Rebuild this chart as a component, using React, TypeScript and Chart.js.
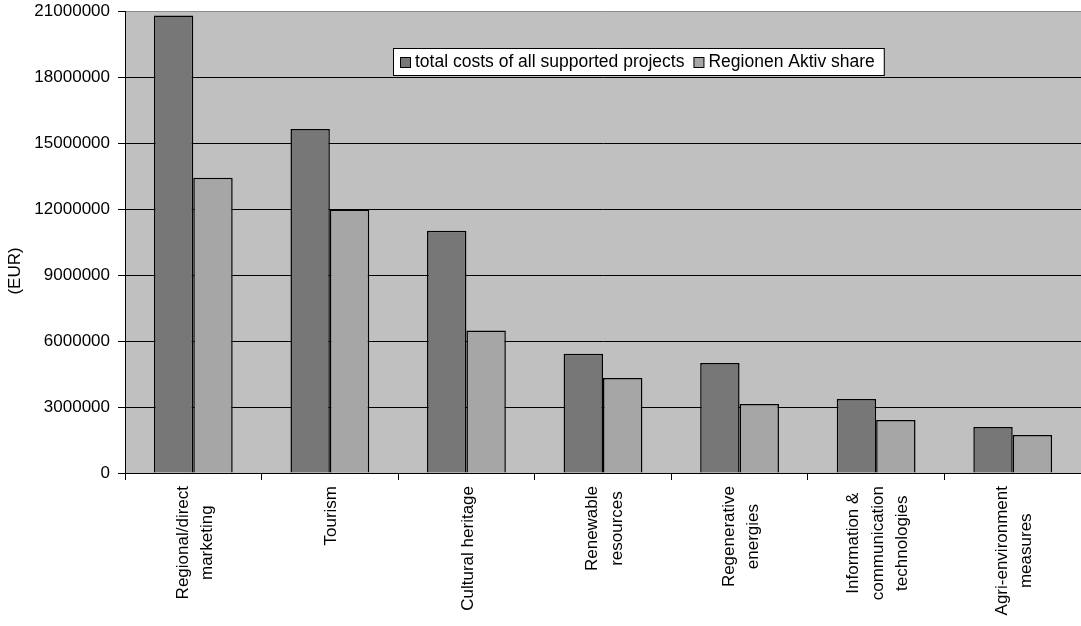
import React, { useEffect, useRef } from "react";
import { Chart, registerables } from "chart.js";

Chart.register(...registerables);

const categories: string[][] = [
  ["Regional/direct", "marketing"],
  ["Tourism"],
  ["Cultural heritage"],
  ["Renewable", "resources"],
  ["Regenerative", "energies"],
  ["Information &", "communication", "technologies"],
  ["Agri-environment", "measures"],
];

const seriesNames = ["total costs of all supported projects", "Regionen Aktiv share"];
const totalCosts = [20800000, 15640000, 11010000, 5420000, 5000000, 3360000, 2090000];
const regionenShare = [13420000, 11980000, 6480000, 4320000, 3140000, 2410000, 1730000];
const yTitle = "(EUR)";
const yMin = 0;
const yMax = 21000000;
const yStep = 3000000;

const FAMILY = "'Liberation Sans', Arial, sans-serif";
const FONT = "17px " + FAMILY;
const LEGEND_FONT = "17.5px " + FAMILY;
const DARK = "#777777";
const LIGHT = "#a6a6a6";
const PLOT_BG = "#c0c0c0";

const decorPlugin = {
  id: "decor",
  beforeDraw(chart: any) {
    const { ctx, chartArea } = chart;
    ctx.save();
    ctx.fillStyle = "#ffffff";
    ctx.fillRect(0, 0, chart.width, chart.height);
    ctx.fillStyle = PLOT_BG;
    ctx.fillRect(chartArea.left, chartArea.top, chartArea.right - chartArea.left, chartArea.bottom - chartArea.top);
    ctx.restore();
  },
  afterDraw(chart: any) {
    const { ctx } = chart;
    const xs = chart.scales.x;
    ctx.save();
    ctx.font = FONT;
    ctx.fillStyle = "#000";
    // category labels, rotated, lines centered
    categories.forEach((lines, i) => {
      const x = xs.getPixelForValue(i);
      const maxW = Math.max(...lines.map((l) => ctx.measureText(l).width));
      ctx.save();
      ctx.translate(x, 486);
      ctx.rotate(-Math.PI / 2);
      ctx.textAlign = "center";
      ctx.textBaseline = "alphabetic";
      const n = lines.length;
      lines.forEach((l, j) => {
        ctx.fillText(l, -maxW / 2, 6.5 + (j - (n - 1) / 2) * 24.5);
      });
      ctx.restore();
    });
    // y title
    ctx.save();
    ctx.translate(15, 271);
    ctx.rotate(-Math.PI / 2);
    ctx.textAlign = "center";
    ctx.textBaseline = "middle";
    ctx.fillText(yTitle, 0, 0);
    ctx.restore();
    // legend
    ctx.font = LEGEND_FONT;
    const colors = [DARK, LIGHT];
    const bx = 393;
    const by = 48;
    const bh = 27;
    let cx = bx + 7;
    const items: { mx: number; tx: number }[] = [];
    seriesNames.forEach((name) => {
      const w = ctx.measureText(name).width;
      items.push({ mx: cx, tx: cx + 15 });
      cx = cx + 15 + w + 9;
    });
    const bw = cx - bx;
    ctx.fillStyle = "#ffffff";
    ctx.fillRect(bx, by, bw, bh);
    ctx.strokeStyle = "#000";
    ctx.lineWidth = 1;
    ctx.strokeRect(bx + 0.5, by + 0.5, bw, bh);
    seriesNames.forEach((name, i) => {
      const it = items[i];
      ctx.fillStyle = colors[i];
      ctx.fillRect(it.mx + 0.5, 57.5, 10, 10);
      ctx.strokeStyle = "#000";
      ctx.strokeRect(it.mx + 0.5, 57.5, 10, 10);
      ctx.fillStyle = "#000";
      ctx.textAlign = "left";
      ctx.textBaseline = "middle";
      ctx.fillText(name, it.tx, 62);
    });
    ctx.restore();
  },
};

export default function App() {
  const ref = useRef<HTMLCanvasElement | null>(null);
  useEffect(() => {
    if (!ref.current) return;
    const chart = new Chart(ref.current, {
      type: "bar",
      data: {
        labels: categories.map((c) => c.join(" ")),
        datasets: [
          {
            label: seriesNames[0],
            data: totalCosts,
            backgroundColor: DARK,
            borderColor: "#000",
            borderWidth: 1.5,
            categoryPercentage: 0.577,
            barPercentage: 1,
          },
          {
            label: seriesNames[1],
            data: regionenShare,
            backgroundColor: LIGHT,
            borderColor: "#000",
            borderWidth: 1.5,
            categoryPercentage: 0.577,
            barPercentage: 1,
          },
        ],
      },
      options: {
        responsive: false,
        animation: false,
        devicePixelRatio: 1,
        layout: { padding: { top: 11, left: 0, right: 0, bottom: 0 } },
        plugins: {
          legend: { display: false },
          tooltip: { enabled: false },
          title: { display: false },
        },
        scales: {
          x: {
            offset: true,
            grid: {
              display: true,
              drawOnChartArea: false,
              drawTicks: true,
              tickLength: 7,
              color: "#000",
              offset: true,
            },
            border: { display: true, color: "#000", width: 1 },
            ticks: { display: false },
            afterFit: (s: any) => {
              s.height = 153;
              s.paddingLeft = 0;
              s.paddingRight = 0;
            },
          },
          y: {
            min: yMin,
            max: yMax,
            ticks: {
              stepSize: yStep,
              color: "#000",
              font: { family: FAMILY, size: 17 },
              padding: 8,
              callback: (v: any) => String(v),
            },
            grid: {
              color: (c: any) => (c.tick && c.tick.value === yMax ? "#8c8c8c" : "#000"),
              tickColor: "#000",
              tickLength: 7,
              lineWidth: 1,
            },
            border: { display: true, color: "#000", width: 1 },
            afterFit: (s: any) => {
              s.width = 125;
              s.paddingTop = 0;
              s.paddingBottom = 0;
            },
          },
        },
      },
      plugins: [decorPlugin],
    });
    return () => chart.destroy();
  }, []);
  return (
    <div style={{ position: "fixed", left: 0, top: 0, width: 1081, height: 626 }}>
      <canvas ref={ref} width={1081} height={626} style={{ display: "block" }} />
    </div>
  );
}
